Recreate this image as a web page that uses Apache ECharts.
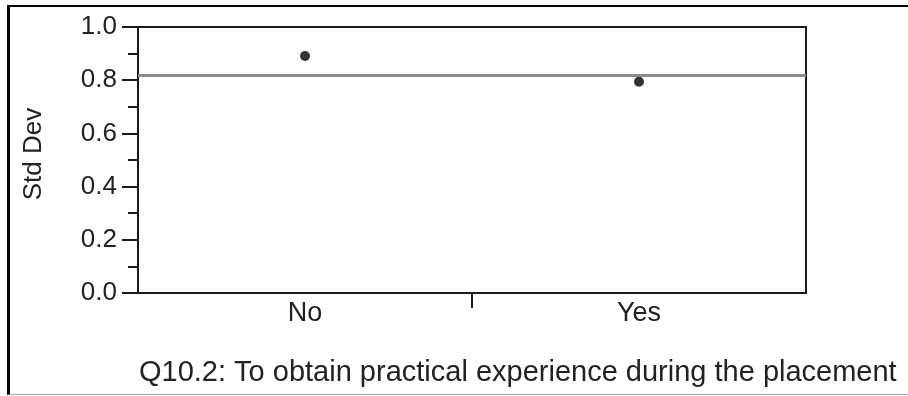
<!DOCTYPE html>
<html>
<head>
<meta charset="utf-8">
<script src="https://cdn.jsdelivr.net/npm/echarts@6/dist/echarts.min.js"></script>
<style>
  html, body { margin: 0; padding: 0; background: #fff; }
  #chart { position: absolute; left: 0; top: 0; width: 908px; height: 396px; }
  #frame { position: absolute; left: 7px; top: 5px; width: 903px; height: 387px;
           border-left: 3px solid #000; border-top: 2px solid #000; border-bottom: 1px solid #aaa;
           pointer-events: none; box-sizing: content-box; }
</style>
</head>
<body>
<div id="chart"></div>
<div id="frame"></div>
<script>
const categories = ['No', 'Yes'];
const stdDevValues = [0.891, 0.794];
const overallStdDev = 0.816;
const yTicks = [0, 0.2, 0.4, 0.6, 0.8, 1.0];
const yAxisName = 'Std Dev';
const xTitle = 'Q10.2: To obtain practical experience during the placement';

const FONT = '"Liberation Sans", Arial, Helvetica, sans-serif';
const chart = echarts.init(document.getElementById('chart'), null, { renderer: 'canvas' });

chart.setOption({
  animation: false,
  backgroundColor: '#fff',
  title: {
    text: xTitle,
    left: 139,
    top: 358,
    padding: 0,
    textStyle: { fontFamily: FONT, fontSize: 29, fontWeight: 'normal', color: '#222' }
  },
  grid: {
    left: 138, top: 27, width: 668, height: 266,
    show: true, borderColor: '#1a1a1a', borderWidth: 2, backgroundColor: 'transparent',
    containLabel: false
  },
  xAxis: [{
    type: 'category',
    data: categories,
    boundaryGap: true,
    axisLine: { show: true, lineStyle: { color: '#1a1a1a', width: 2 } },
    axisTick: { show: false },
    axisLabel: { margin: 7, fontFamily: FONT, fontSize: 27, color: '#222' },
    splitLine: { show: false }
  }, {
    type: 'value',
    position: 'bottom',
    min: 0, max: categories.length, interval: categories.length,
    axisLine: { show: false },
    axisTick: { show: false },
    axisLabel: { show: false },
    splitLine: { show: false },
    minorTick: { show: true, splitNumber: categories.length, length: 15, lineStyle: { color: '#1a1a1a', width: 2 } },
    minorSplitLine: { show: false }
  }],
  yAxis: {
    type: 'value',
    min: yTicks[0], max: yTicks[yTicks.length - 1], interval: 0.2,
    name: yAxisName,
    nameLocation: 'middle',
    nameGap: 91,
    nameTextStyle: { fontFamily: FONT, fontSize: 26, color: '#222', padding: [0, 0, 0, 12] },
    axisLine: { show: true, lineStyle: { color: '#1a1a1a', width: 2 } },
    axisTick: { show: true, length: 16, lineStyle: { color: '#1a1a1a', width: 2 } },
    minorTick: { show: true, splitNumber: 2, length: 10, lineStyle: { color: '#1a1a1a', width: 2 } },
    axisLabel: { margin: 21, fontFamily: FONT, fontSize: 26, color: '#222',
                 formatter: v => v.toFixed(1) },
    splitLine: { show: false }
  },
  series: [{
    type: 'scatter',
    xAxisIndex: 0,
    data: stdDevValues,
    symbol: 'circle',
    symbolSize: 10,
    itemStyle: { color: '#000' },
    markLine: {
      silent: true,
      symbol: ['none', 'none'],
      label: { show: false },
      lineStyle: { color: '#8c8c8c', width: 3, type: 'solid' },
      data: [{ yAxis: overallStdDev }]
    },
    z: 3
  }]
});
</script>
</body>
</html>
